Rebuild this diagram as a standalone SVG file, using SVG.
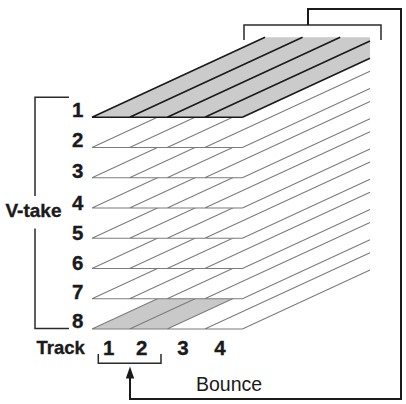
<svg xmlns="http://www.w3.org/2000/svg" xmlns:xlink="http://www.w3.org/1999/xlink" width="406" height="404" viewBox="0 0 406 404">
<style>
.face{fill:#ffffff;stroke:none}
.face1{fill:#cbcbcb;stroke:none}
.hl{fill:#c9c9c9;stroke:none}
.grid{fill:none;stroke:#7c7c7c;stroke-width:1.1}
.grid1{fill:none;stroke:#1a1a1a;stroke-width:1.6}
.num{font-family:"Liberation Sans",Arial,sans-serif;font-weight:bold;font-size:20.5px;fill:#1a1a1a;stroke:#1a1a1a;stroke-width:0.35}
.vt{font-family:"Liberation Sans",Arial,sans-serif;font-weight:bold;font-size:19px;fill:#1a1a1a;stroke:#1a1a1a;stroke-width:0.35}
.lbl{font-family:"Liberation Sans",Arial,sans-serif;font-weight:bold;font-size:18.5px;fill:#1a1a1a;stroke:#1a1a1a;stroke-width:0.35}
.reg{font-family:"Liberation Sans",Arial,sans-serif;font-size:19.5px;fill:#1a1a1a}
.brk{fill:none;stroke:#2a2a2a;stroke-width:1.5}
.wire{fill:none;stroke:#1a1a1a;stroke-width:2}
</style>
<defs>
<polygon id="face" points="92,0 242.4,0 370,-59 370,-80 265,-80"/>
<path id="lines" d="M92,0H242.4M92,0L265,-80M129.6,0L302.6,-80M167.2,0L340.2,-80M204.8,0L370,-76.4M242.4,0L370,-59"/>
</defs>
<g id="layers">
<g id="take-8" transform="translate(0,329.05)"><use xlink:href="#face" class="face"/><polygon class="hl" points="92,0 167.2,0 340.2,-80 265,-80"/><use xlink:href="#lines" class="grid"/></g>
<g id="take-7" transform="translate(0,298.8)"><use xlink:href="#face" class="face"/><use xlink:href="#lines" class="grid"/></g>
<g id="take-6" transform="translate(0,268.55)"><use xlink:href="#face" class="face"/><use xlink:href="#lines" class="grid"/></g>
<g id="take-5" transform="translate(0,238.3)"><use xlink:href="#face" class="face"/><use xlink:href="#lines" class="grid"/></g>
<g id="take-4" transform="translate(0,208.05)"><use xlink:href="#face" class="face"/><use xlink:href="#lines" class="grid"/></g>
<g id="take-3" transform="translate(0,177.8)"><use xlink:href="#face" class="face"/><use xlink:href="#lines" class="grid"/></g>
<g id="take-2" transform="translate(0,147.55)"><use xlink:href="#face" class="face"/><use xlink:href="#lines" class="grid"/></g>
<g id="take-1" transform="translate(0,117.3)"><use xlink:href="#face" class="face1"/><use xlink:href="#lines" class="grid1"/></g>
</g>
<g id="take-numbers">
<text class="num" x="83.5" y="116.8" text-anchor="end">1</text>
<text class="num" x="83.5" y="147.3" text-anchor="end">2</text>
<text class="num" x="83.5" y="178" text-anchor="end">3</text>
<text class="num" x="83.5" y="209.5" text-anchor="end">4</text>
<text class="num" x="83.5" y="239.5" text-anchor="end">5</text>
<text class="num" x="83.5" y="269.5" text-anchor="end">6</text>
<text class="num" x="83.5" y="299" text-anchor="end">7</text>
<text class="num" x="83.5" y="327.5" text-anchor="end">8</text>
</g>
<g id="vtake-bracket">
<path class="brk" d="M69,97.3H35V196M35,228.5V328.5H69"/>
<text class="vt" x="5.5" y="216.7">V-take</text>
</g>
<g id="track-labels">
<text class="lbl" x="36.5" y="354">Track</text>
<text class="num" x="108.6" y="355" text-anchor="middle">1</text>
<text class="num" x="141.7" y="355" text-anchor="middle">2</text>
<text class="num" x="183" y="355" text-anchor="middle">3</text>
<text class="num" x="220" y="355" text-anchor="middle">4</text>
</g>
<g id="bounce-source-bracket"><path class="brk" d="M98.3,354V363.3H161V354"/></g>
<g id="bounce-target-bracket"><path class="brk" d="M244,40V25H381V40"/></g>
<g id="connectors">
<path class="wire" d="M308,25V9H401V399H130V376"/>
<polygon points="130,366.5 134.2,378.5 125.8,378.5" fill="#1a1a1a"/>
</g>
<g id="bounce-label"><text class="reg" x="196" y="390.7">Bounce</text></g>
</svg>
